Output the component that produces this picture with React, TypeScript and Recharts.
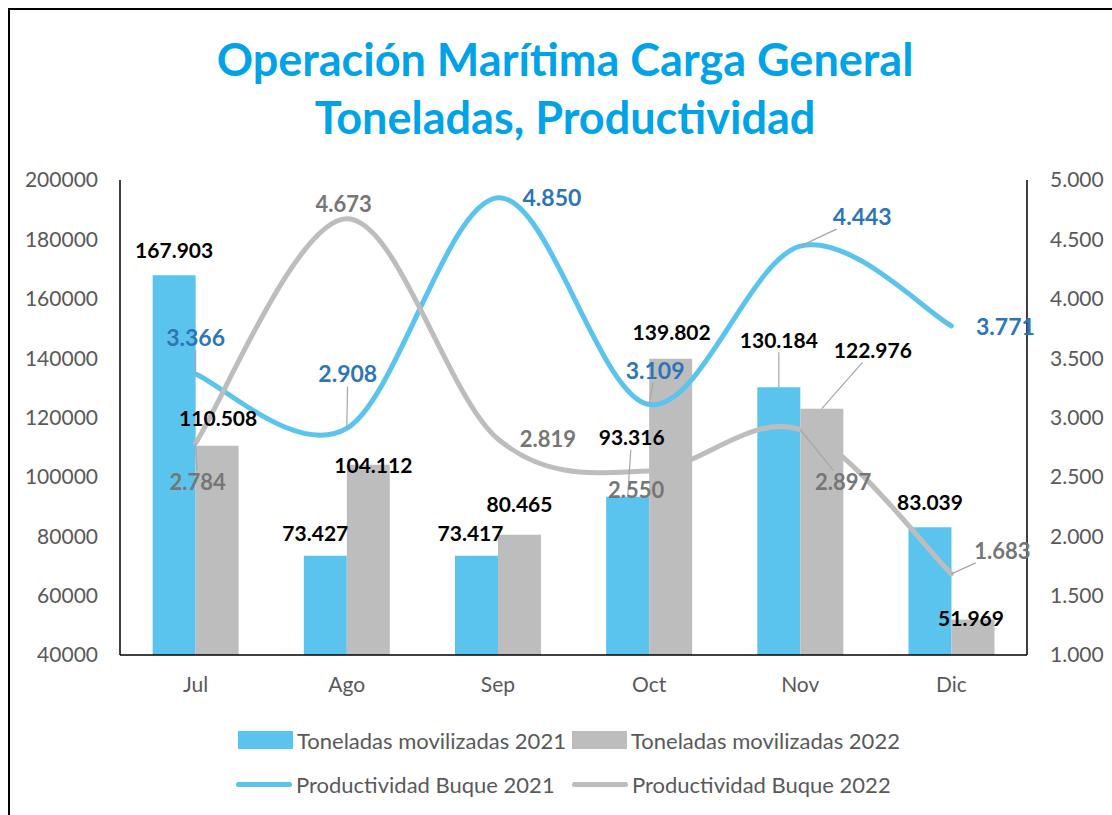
import React from 'react';
import { ComposedChart, Bar, Line, XAxis, YAxis, LabelList } from 'recharts';

const MONTHS = ['Jul', 'Ago', 'Sep', 'Oct', 'Nov', 'Dic'];
const TON_2021 = [167903, 73427, 73417, 93316, 130184, 83039];
const TON_2022 = [110508, 104112, 80465, 139802, 122976, 51969];
const PROD_2021 = [3.366, 2.908, 4.85, 3.109, 4.443, 3.771];
const PROD_2022 = [2.784, 4.673, 2.819, 2.55, 2.897, 1.683];
const LEFT_TICKS = [40000, 60000, 80000, 100000, 120000, 140000, 160000, 180000, 200000];
const RIGHT_TICKS = [1, 1.5, 2, 2.5, 3, 3.5, 4, 4.5, 5];

const SERIES = {
  t21: 'Toneladas movilizadas 2021',
  t22: 'Toneladas movilizadas 2022',
  p21: 'Productividad Buque 2021',
  p22: 'Productividad Buque 2022',
};

const BLUE = '#5BC4EE';
const GRAY = '#BDBDBD';
const TEXT = '#595959';
const FONT = 'Lato, "Open Sans", sans-serif';

// label placement (center of label relative to the anchor point), plus leader flag
const OFF_T21: [number, number, boolean][] = [[0, -25, false], [-10, -22, false], [-6, -22, false], [4, -59, true], [0, -47, true], [0, -25, false]];
const OFF_T22: [number, number, boolean][] = [[1, -27, false], [5, 1, false], [0, -30, false], [1, -26, false], [51, -58, true], [-2, -1, false]];
const OFF_P21: [number, number, boolean][] = [[0, -36, true], [1, -54, true], [54, 0, false], [6, -34, true], [62, -29, true], [54, 1, false]];
const OFF_P22: [number, number, boolean][] = [[2, 39, true], [-3, -15, false], [50, 0, false], [-13, 19, false], [43, 53, true], [51, -23, true]];

const data = MONTHS.map((month, i) => ({
  month,
  t21: TON_2021[i],
  t22: TON_2022[i],
  p21: PROD_2021[i],
  p22: PROD_2022[i],
}));

const fmtTon = (v: number) => `${Math.floor(v / 1000)}.${String(v % 1000).padStart(3, '0')}`;
const fmtProd = (v: number) => v.toFixed(3);

// Excel style smoothing (Catmull-Rom through every point)
function excelSmooth(context: any) {
  let pts: [number, number][] = [];
  return {
    areaStart() {},
    areaEnd() {},
    lineStart() {
      pts = [];
    },
    lineEnd() {
      const n = pts.length;
      if (!n) return;
      context.moveTo(pts[0][0], pts[0][1]);
      for (let i = 0; i < n - 1; i++) {
        const p0 = pts[i - 1] || pts[i];
        const p1 = pts[i];
        const p2 = pts[i + 1];
        const p3 = pts[i + 2] || p2;
        context.bezierCurveTo(
          p1[0] + (p2[0] - p0[0]) / 6,
          p1[1] + (p2[1] - p0[1]) / 6,
          p2[0] - (p3[0] - p1[0]) / 6,
          p2[1] - (p3[1] - p1[1]) / 6,
          p2[0],
          p2[1]
        );
      }
    },
    point(x: number, y: number) {
      pts.push([+x, +y]);
    },
  };
}

function makeLabel(offsets: [number, number, boolean][], color: string, fmt: (v: number) => string, isBar: boolean, size: number) {
  return (props: any) => {
    const { x, y, width, value, index } = props;
    const ax = isBar ? Number(x) + Number(width) / 2 : Number(x);
    const ay = Number(y);
    const [dx, dy, leader] = offsets[index];
    const cx = ax + dx;
    const cy = ay + dy;
    let line = null;
    if (leader) {
      const vx = ax - cx;
      const vy = ay - cy;
      const t = Math.min(vx ? 38 / Math.abs(vx) : Infinity, vy ? 12 / Math.abs(vy) : Infinity);
      if (t < 1) {
        line = <line x1={cx + vx * t} y1={cy + vy * t} x2={ax} y2={ay} stroke="#A6A6A6" strokeWidth={1.2} />;
      }
    }
    return (
      <g>
        {line}
        <text x={cx} y={cy} dy="0.35em" textAnchor="middle" fill={color} fontFamily={FONT} fontSize={size} fontWeight={700}>
          {fmt(value)}
        </text>
      </g>
    );
  };
}

function LegendSwatch({ kind, color }: { kind: 'bar' | 'line'; color: string }) {
  if (kind === 'bar') return <div style={{ width: 55, height: 18, background: color, marginRight: 4 }} />;
  return <div style={{ width: 56, height: 5, borderRadius: 3, background: color, marginRight: 4 }} />;
}

function LegendItem({ kind, color, label, left, top }: any) {
  return (
    <div style={{ position: 'absolute', left, top, height: 26, display: 'flex', alignItems: 'center', color: TEXT, fontSize: 22, fontFamily: FONT, whiteSpace: 'nowrap' }}>
      <LegendSwatch kind={kind} color={color} />
      <span>{label}</span>
    </div>
  );
}

export default function App() {
  return (
    <div style={{ position: 'absolute', left: 0, top: 0, width: 1112, height: 815, background: '#fff', overflow: 'hidden' }}>
      <div style={{ position: 'absolute', left: 8, top: 8, width: 1130, height: 830, borderLeft: '2px solid #000', borderTop: '2px solid #000' }} />
      <div
        style={{
          position: 'absolute',
          left: 0,
          top: 30,
          width: 1130,
          textAlign: 'center',
          color: '#00A3E8',
          fontFamily: FONT,
          fontWeight: 700,
          fontSize: 45,
          lineHeight: '58px',
        }}
      >
        <div>Operación Marítima Carga General</div>
        <div>Toneladas, Productividad</div>
      </div>
      <ComposedChart
        width={1112}
        height={815}
        data={data}
        margin={{ top: 180, right: 0, bottom: 100, left: 0 }}
        barCategoryGap="21.6%"
        barGap={0}
        style={{ position: 'absolute', left: 0, top: 0 }}
      >
        <XAxis
          dataKey="month"
          height={60}
          tickLine={false}
          tickSize={0}
          tickMargin={22}
          axisLine={{ stroke: '#000', strokeWidth: 1.5 }}
          tick={{ fill: TEXT, fontSize: 21, fontFamily: FONT }}
        />
        <XAxis xAxisId="top" dataKey="month" orientation="top" height={0} tick={false} tickLine={false} axisLine={{ stroke: '#000', strokeWidth: 1.5 }} />
        <YAxis
          yAxisId="left"
          width={120}
          domain={[40000, 200000]}
          ticks={LEFT_TICKS}
          interval={0}
          tickLine={false}
          tickSize={0}
          tickMargin={22}
          axisLine={{ stroke: '#000', strokeWidth: 1.5 }}
          tick={{ fill: TEXT, fontSize: 21, fontFamily: FONT }}
        />
        <YAxis
          yAxisId="right"
          orientation="right"
          width={85}
          domain={[1, 5]}
          ticks={RIGHT_TICKS}
          interval={0}
          tickFormatter={(v: number) => v.toFixed(3)}
          tickLine={false}
          tickSize={0}
          tickMargin={23}
          axisLine={{ stroke: '#000', strokeWidth: 1.5 }}
          tick={{ fill: TEXT, fontSize: 21, fontFamily: FONT, textAnchor: 'start' }}
        />
        <Bar yAxisId="left" dataKey="t21" name={SERIES.t21} fill={BLUE} isAnimationActive={false}>
          <LabelList dataKey="t21" content={makeLabel(OFF_T21, '#000', fmtTon, true, 21)} />
        </Bar>
        <Bar yAxisId="left" dataKey="t22" name={SERIES.t22} fill={GRAY} isAnimationActive={false}>
          <LabelList dataKey="t22" content={makeLabel(OFF_T22, '#000', fmtTon, true, 21)} />
        </Bar>
        <Line
          yAxisId="right"
          dataKey="p21"
          name={SERIES.p21}
          type={excelSmooth as any}
          stroke={BLUE}
          strokeWidth={5}
          strokeLinecap="round"
          dot={false}
          activeDot={false}
          isAnimationActive={false}
        >
          <LabelList dataKey="p21" content={makeLabel(OFF_P21, '#2E75B6', fmtProd, false, 23)} />
        </Line>
        <Line
          yAxisId="right"
          dataKey="p22"
          name={SERIES.p22}
          type={excelSmooth as any}
          stroke={GRAY}
          strokeWidth={5}
          strokeLinecap="round"
          dot={false}
          activeDot={false}
          isAnimationActive={false}
        >
          <LabelList dataKey="p22" content={makeLabel(OFF_P22, '#767676', fmtProd, false, 22)} />
        </Line>
      </ComposedChart>
      <LegendItem kind="bar" color={BLUE} label={SERIES.t21} left={238} top={727} />
      <LegendItem kind="bar" color={GRAY} label={SERIES.t22} left={572} top={727} />
      <LegendItem kind="line" color={BLUE} label={SERIES.p21} left={236} top={771} />
      <LegendItem kind="line" color={GRAY} label={SERIES.p22} left={572} top={771} />
    </div>
  );
}
